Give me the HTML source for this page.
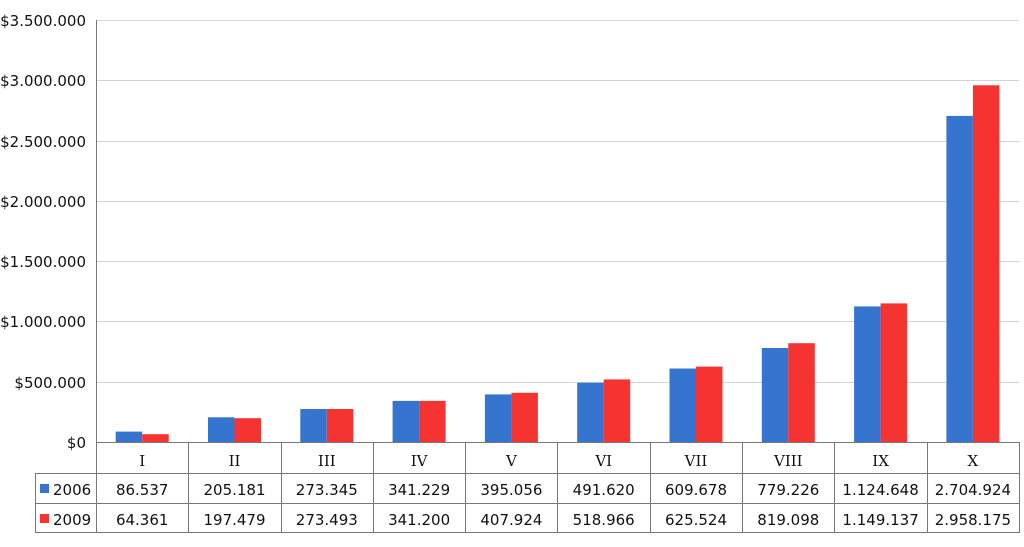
<!DOCTYPE html>
<html><head><style>body{margin:0;background:#fff}svg{display:block}
.s{font-family:"DejaVu Sans","Liberation Sans",sans-serif;font-size:15px;fill:#111}
.r{font-family:"DejaVu Serif","Liberation Serif",serif;font-size:15px;fill:#111}</style></head>
<body><svg width="1024" height="547" xmlns="http://www.w3.org/2000/svg">
<g stroke="#d4d4d4" stroke-width="1">
<line x1="96" x2="1019" y1="20.5" y2="20.5"/><line x1="96" x2="1019" y1="80.5" y2="80.5"/><line x1="96" x2="1019" y1="141.5" y2="141.5"/><line x1="96" x2="1019" y1="201.5" y2="201.5"/><line x1="96" x2="1019" y1="261.5" y2="261.5"/><line x1="96" x2="1019" y1="321.5" y2="321.5"/><line x1="96" x2="1019" y1="382.5" y2="382.5"/>
</g>
<g fill="#3575d0">
<rect x="115.7" y="431.6" width="26.5" height="10.4"/><rect x="208" y="417.3" width="26.5" height="24.7"/><rect x="300.3" y="409" width="26.5" height="33"/><rect x="392.6" y="400.9" width="26.5" height="41.1"/><rect x="484.9" y="394.4" width="26.5" height="47.6"/><rect x="577.2" y="382.7" width="26.5" height="59.3"/><rect x="669.5" y="368.5" width="26.5" height="73.5"/><rect x="761.8" y="348" width="26.5" height="94"/><rect x="854.1" y="306.4" width="26.5" height="135.6"/><rect x="946.4" y="115.9" width="26.5" height="326.1"/>
</g>
<g fill="#f53431">
<rect x="142.2" y="434.2" width="26.5" height="7.8"/><rect x="234.5" y="418.2" width="26.5" height="23.8"/><rect x="326.8" y="409" width="26.5" height="33"/><rect x="419.1" y="400.9" width="26.5" height="41.1"/><rect x="511.4" y="392.8" width="26.5" height="49.2"/><rect x="603.7" y="379.4" width="26.5" height="62.6"/><rect x="696" y="366.6" width="26.5" height="75.4"/><rect x="788.3" y="343.2" width="26.5" height="98.8"/><rect x="880.6" y="303.4" width="26.5" height="138.6"/><rect x="972.9" y="85.3" width="26.5" height="356.7"/>
</g>
<g class="s" text-anchor="end">
<text x="86" y="26">$3.500.000</text><text x="86" y="86">$3.000.000</text><text x="86" y="147">$2.500.000</text><text x="86" y="207">$2.000.000</text><text x="86" y="267">$1.500.000</text><text x="86" y="327">$1.000.000</text><text x="86" y="388">$500.000</text><text x="86" y="448">$0</text>
</g>
<g stroke="#777" stroke-width="1" fill="none">
<line x1="96.5" y1="20" x2="96.5" y2="533"/>
<line x1="96" y1="442.5" x2="1019" y2="442.5"/>
<line x1="35" y1="473.5" x2="1019" y2="473.5"/>
<line x1="35" y1="503.5" x2="1019" y2="503.5"/>
<line x1="35" y1="532.5" x2="1019" y2="532.5"/>
<line x1="35.5" y1="473" x2="35.5" y2="533"/>
<line x1="188.5" y1="442" x2="188.5" y2="533"/><line x1="281.5" y1="442" x2="281.5" y2="533"/><line x1="373.5" y1="442" x2="373.5" y2="533"/><line x1="465.5" y1="442" x2="465.5" y2="533"/><line x1="557.5" y1="442" x2="557.5" y2="533"/><line x1="650.5" y1="442" x2="650.5" y2="533"/><line x1="742.5" y1="442" x2="742.5" y2="533"/><line x1="834.5" y1="442" x2="834.5" y2="533"/><line x1="927.5" y1="442" x2="927.5" y2="533"/><line x1="1019.5" y1="442" x2="1019.5" y2="533"/>
</g>
<g class="r" text-anchor="middle">
<text x="142.2" y="466">I</text><text x="234.5" y="466">II</text><text x="326.8" y="466">III</text><text x="419.1" y="466">IV</text><text x="511.4" y="466">V</text><text x="603.7" y="466">VI</text><text x="696" y="466">VII</text><text x="788.3" y="466">VIII</text><text x="880.6" y="466">IX</text><text x="972.9" y="466">X</text>
</g>
<rect x="40" y="484" width="9" height="9" fill="#3575d0"/>
<rect x="40" y="514" width="9" height="9" fill="#f53431"/>
<text class="s" x="53" y="495">2006</text><text class="s" x="53" y="525">2009</text>
<g class="s" text-anchor="middle">
<text x="142.2" y="495">86.537</text><text x="234.5" y="495">205.181</text><text x="326.8" y="495">273.345</text><text x="419.1" y="495">341.229</text><text x="511.4" y="495">395.056</text><text x="603.7" y="495">491.620</text><text x="696" y="495">609.678</text><text x="788.3" y="495">779.226</text><text x="880.6" y="495">1.124.648</text><text x="972.9" y="495">2.704.924</text>
<text x="142.2" y="525">64.361</text><text x="234.5" y="525">197.479</text><text x="326.8" y="525">273.493</text><text x="419.1" y="525">341.200</text><text x="511.4" y="525">407.924</text><text x="603.7" y="525">518.966</text><text x="696" y="525">625.524</text><text x="788.3" y="525">819.098</text><text x="880.6" y="525">1.149.137</text><text x="972.9" y="525">2.958.175</text>
</g>
</svg></body></html>
